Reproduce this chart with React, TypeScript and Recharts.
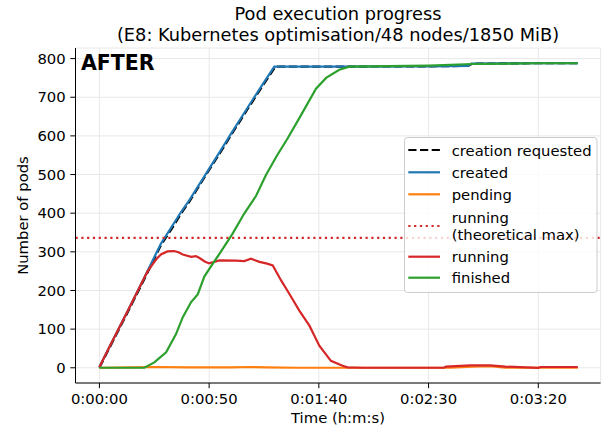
import React from 'react';
import { LineChart, Line, XAxis, YAxis, CartesianGrid, ReferenceLine, Legend, Customized } from 'recharts';

// ---- data (time in seconds, values = number of pods) ----
const requestedTimes = [0, 5, 13, 20, 28, 33, 37.2, 41, 50, 55, 60, 68.3, 74, 80.2, 100, 150, 168, 170, 200, 218];
const requestedValues = [0, 56, 145, 224, 317, 360, 399, 430, 512, 556, 602, 676, 726, 779, 779, 780, 781, 787, 788, 788];

const createdTimes = [0, 5, 13, 20, 28, 33, 37.2, 41, 50.1, 55, 60, 68.3, 74, 79.7, 100, 150, 168, 169.5, 200, 218];
const createdValues = [2, 59, 148, 228, 321, 365, 403, 434, 516, 560, 606, 680, 730, 779, 779, 780, 781, 787, 788, 788];

const pendingTimes = [0, 15, 25, 40, 60, 70, 76, 90, 160, 170, 178, 185, 218];
const pendingValues = [0, 1, 2, 1, 1, 2, 1, 0, 0, 3, 4, 0, 0];

const runningTimes = [0, 5, 13, 20, 22, 25.8, 28, 31, 34, 36, 38, 41.8, 44, 45.6, 48, 50, 54.7, 62.3, 66, 69.1, 72.9, 76, 79, 82.8, 86.6, 91.1, 95.7, 100.2, 105.5, 110.8, 113, 120, 157, 158, 169, 178, 185, 200, 201, 218];
const runningValues = [2, 59, 148, 228, 250, 280, 293, 301, 302, 299, 293, 287, 289, 284, 275, 270, 278, 277, 276, 282, 274, 270, 265, 226, 191, 148, 109, 57, 18, 5, 1, 0, 0, 3, 6, 6, 3, 0, 2, 2];

const finishedTimes = [0, 20.5, 25, 30.4, 34.9, 38, 41.8, 44.8, 47.8, 51.6, 54.7, 60.7, 66, 71.4, 75.9, 80.8, 85.8, 91.1, 98.7, 103.3, 109.3, 113.9, 150, 170, 200, 218];
const finishedValues = [0, 0, 14, 40, 87, 131, 170, 190, 236, 269, 295, 347, 399, 445, 499, 548, 594, 646, 722, 750, 771, 779, 782, 786, 788, 788];

const theoreticalMaxRunning = 336;

const xTicks = [0, 50, 100, 150, 200];
const yTicks = [0, 100, 200, 300, 400, 500, 600, 700, 800];

const titleLines = ['Pod execution progress', '(E8: Kubernetes optimisation/48 nodes/1850 MiB)'];
const xLabel = 'Time (h:m:s)';
const yLabel = 'Number of pods';
const panelTag = 'AFTER';

const legendLabels = [
  ['creation requested'],
  ['created'],
  ['pending'],
  ['running', '(theoretical max)'],
  ['running'],
  ['finished'],
];

// ---- style ----
const FONT = '"DejaVu Sans", sans-serif';
const FS = 14.8;
const BLUE = '#1f77b4';
const ORANGE = '#ff7f0e';
const RED = '#d62728';
const GREEN = '#2ca02c';
const DASHED = '8.2 3.5';
const DOTTED = '2.2 3.6';
const LW = 2.2;

const toData = (ts: number[], vs: number[]) => ts.map((t, i) => ({ t, v: vs[i] }));
const requestedData = toData(requestedTimes, requestedValues);
const createdData = toData(createdTimes, createdValues);
const pendingData = toData(pendingTimes, pendingValues);
const runningData = toData(runningTimes, runningValues);
const finishedData = toData(finishedTimes, finishedValues);

const fmt = (s: number) => {
  const h = Math.floor(s / 3600);
  const m = Math.floor((s % 3600) / 60);
  const sec = Math.round(s % 60);
  return `${h}:${String(m).padStart(2, '0')}:${String(sec).padStart(2, '0')}`;
};

const X_DOMAIN: [number, number] = [-10.9, 228.4];
const Y_DOMAIN: [number, number] = [-39.4, 827.4];

const legendStyles = [
  { color: '#000', dash: DASHED },
  { color: BLUE, dash: undefined },
  { color: ORANGE, dash: undefined },
  { color: RED, dash: DOTTED },
  { color: RED, dash: undefined },
  { color: GREEN, dash: undefined },
];
const legendRowY = [13, 35.3, 57.3, 89, 119.7, 140.7];

const LegendBox = () => (
  <svg width={194} height={156} style={{ display: 'block', overflow: 'visible' }}>
    <rect x={0.5} y={0.5} width={192.5} height={155} rx={3} ry={3} fill="#ffffff" fillOpacity={0.8} stroke="#cccccc" strokeWidth={1} />
    {legendLabels.map((lines, i) => {
      const st = legendStyles[i];
      const y = legendRowY[i];
      return (
        <g key={i}>
          <line x1={4.3} x2={36} y1={y} y2={y} stroke={st.color} strokeWidth={LW} strokeDasharray={st.dash} />
          {lines.map((ln, j) => (
            <text key={j} x={47.7} y={y + (lines.length === 2 ? (j === 0 ? -8.8 : 8.8) : 0)} dominantBaseline="central"
              fontFamily={FONT} fontSize={FS} fill="#000">{ln}</text>
          ))}
        </g>
      );
    })}
  </svg>
);

const Decorations = () => (
  <g>
    <text x={338} y={20} textAnchor="middle" fontFamily={FONT} fontSize={17.8} fill="#000">{titleLines[0]}</text>
    <text x={338} y={40.5} textAnchor="middle" fontFamily={FONT} fontSize={17.8} fill="#000">{titleLines[1]}</text>
    <text x={338} y={423} textAnchor="middle" fontFamily={FONT} fontSize={FS} fill="#000">{xLabel}</text>
    <text x={27.5} y={215.5} textAnchor="middle" transform="rotate(-90, 27.5, 215.5)" fontFamily={FONT} fontSize={FS} fill="#000">{yLabel}</text>
    <text x={81} y={70} fontFamily={FONT} fontSize={20.5} fontWeight="bold" fill="#000">{panelTag}</text>
  </g>
);

export default function App() {
  const tickStyle = { fontFamily: FONT, fontSize: FS, fill: '#000' };
  return (
    <div style={{ position: 'fixed', left: 0, top: 0, width: 605, height: 428, background: '#fff' }}>
      <LineChart width={605} height={428} margin={{ top: 48, right: 4.4, bottom: 0, left: 0 }}>
        <CartesianGrid stroke="#e8e8e8" strokeWidth={1} />
        <XAxis dataKey="t" type="number" domain={X_DOMAIN} ticks={xTicks} tickFormatter={fmt} allowDataOverflow
          height={45} tickSize={5.2} tickMargin={5.5} tick={tickStyle} stroke="#000" tickLine={{ stroke: '#000' }} axisLine={{ stroke: '#000' }} />
        <XAxis xAxisId="top" orientation="top" type="number" domain={X_DOMAIN} allowDataOverflow height={0} tick={false} tickLine={false} axisLine={{ stroke: '#000' }} />
        <YAxis type="number" domain={Y_DOMAIN} ticks={yTicks} allowDataOverflow width={75.5} tickSize={5.2} tickMargin={4.6}
          tick={tickStyle} stroke="#000" tickLine={{ stroke: '#000' }} axisLine={{ stroke: '#000' }} />
        <YAxis yAxisId="right" orientation="right" type="number" domain={Y_DOMAIN} allowDataOverflow width={0} tick={false} tickLine={false} axisLine={{ stroke: '#000' }} />
        <Line data={requestedData} dataKey="v" name="creation requested" type="linear" stroke="#000" strokeWidth={LW} strokeDasharray={DASHED} dot={false} activeDot={false} isAnimationActive={false} />
        <Line data={createdData} dataKey="v" name="created" type="linear" stroke={BLUE} strokeWidth={LW} dot={false} activeDot={false} isAnimationActive={false} />
        <Line data={pendingData} dataKey="v" name="pending" type="linear" stroke={ORANGE} strokeWidth={LW} dot={false} activeDot={false} isAnimationActive={false} />
        <ReferenceLine y={theoreticalMaxRunning} stroke={RED} strokeWidth={LW} strokeDasharray={DOTTED} />
        <Line data={runningData} dataKey="v" name="running" type="linear" stroke={RED} strokeWidth={LW} dot={false} activeDot={false} isAnimationActive={false} />
        <Line data={finishedData} dataKey="v" name="finished" type="linear" stroke={GREEN} strokeWidth={LW} dot={false} activeDot={false} isAnimationActive={false} />
        <Legend layout="vertical" align="center" verticalAlign="middle" content={() => <LegendBox />}
          wrapperStyle={{ position: 'absolute', left: 404, top: 137, width: 194, height: 156, margin: 0, padding: 0 }} />
        <Customized component={Decorations} />
      </LineChart>
    </div>
  );
}
